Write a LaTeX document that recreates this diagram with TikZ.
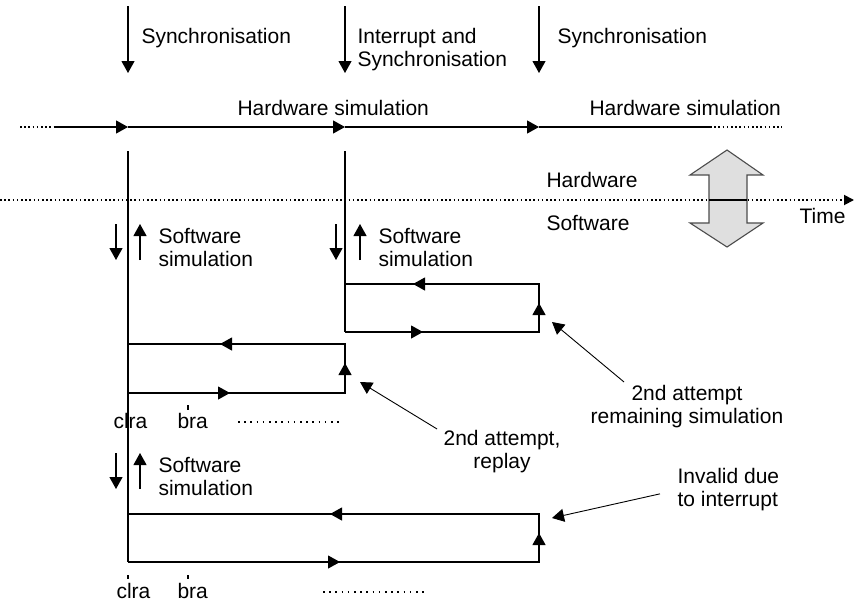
\documentclass[tikz,border=0pt]{standalone}
\usepackage{fontspec}
\setmainfont{Liberation Sans}
\usetikzlibrary{arrows.meta}
\tikzset{
    arr/.style={-{Triangle[length=6pt,width=6.5pt]}},
    dots/.style={line width=0.9pt,dash pattern=on 0.8pt off 1.3pt},
    wide dots/.style={line width=0.9pt,dash pattern=on 0.8pt off 2.3pt},
    lbl/.style={inner sep=0pt,font=\fontsize{10.5}{11.5}\selectfont},
}
\begin{document}
\begin{tikzpicture}[x=0.5pt,y=-0.5pt,line width=0.55pt]
        \useasboundingbox (0,0) rectangle (854,605);
        %% synchronisation points
        \foreach \x/\n in {128/s1,345/s2,539/s3} {
            \coordinate (\n top) at (\x,6);
            \coordinate (\n) at (\x,73);
            \draw[arr] (\n top) -- (\n);
        }
        \node[lbl,anchor=base west] (sync1) at (141,43) {Synchronisation};
        \node[lbl,anchor=north west,align=left] (intr) at (357,28) {Interrupt and\\Synchronisation};
        \node[lbl,anchor=base west] (sync3) at (557,43) {Synchronisation};
        %% hardware time line
        \coordinate (hw0) at (20,127);
        \coordinate (hw1) at (55,127);
        \coordinate (hwA) at (128,127);
        \coordinate (hwB) at (345,127);
        \coordinate (hwC) at (539,127);
        \coordinate (hw2) at (710,127);
        \coordinate (hw3) at (782,127);
        \draw[dots] (hw0) -- (hw1);
        \draw[arr] (hw1) -- (hwA);
        \draw[arr] (hwA) -- (hwB);
        \draw[arr] (hwB) -- (hwC);
        \draw (hwC) -- (hw2);
        \draw[dots] (hw2) -- (hw3);
        \node[lbl,anchor=base west] (hwsim1) at (237,115) {Hardware simulation};
        \node[lbl,anchor=base west] (hwsim2) at (589,115) {Hardware simulation};
        %% hardware / software border
        \draw[gray!60!black,fill=gray!25] (727,150) -- (763,175) -- (747,175) -- (747,223)
            -- (763,223) -- (727,247) -- (690,223) -- (709,223) -- (709,175) -- (690,175) -- cycle;
        \coordinate (t0) at (0,200);
        \coordinate (t1) at (854,200);
        \draw[dots,-{Triangle[length=5pt,width=5pt]}] (t0) -- (t1);
        \draw (709,200) -- (747,200);
        \node[lbl,anchor=base west] (hw) at (546,187) {Hardware};
        \node[lbl,anchor=base west] (sw) at (546,230) {Software};
        \node[lbl,anchor=base west] (time) at (799,223) {Time};
        %% software threads
        \coordinate (v1top) at (128,151);
        \coordinate (v1bot) at (128,562);
        \coordinate (v2top) at (345,151);
        \coordinate (v2bot) at (345,332);
        \draw (v1top) -- (v1bot);
        \draw (v2top) -- (v2bot);
        \foreach \xd/\xu/\xt/\y/\n in {116/140/158/224/sw1,336/360/378/224/sw2,116/140/158/453/sw3} {
            \draw[arr] (\xd,\y) -- (\xd,{\y+36});
            \draw[arr] (\xu,{\y+36}) -- (\xu,\y);
            \node[lbl,anchor=north west,align=left] (\n) at (\xt,{\y+4}) {Software\\simulation};
        }
        %% simulation loops
        \foreach \l/\r/\t/\b/\ta/\ba/\ra in {345/539/284/332/413/423/303,
                128/345/344/393/220/230/363,128/539/514/562/330/340/533} {
            \draw (\l,\t) -- (\r,\t) -- (\r,\b) -- (\l,\b);
            \draw[arr] (\r,\t) -- (\ta,\t);
            \draw[arr] (\l,\b) -- (\ba,\b);
            \draw[arr] (\r,\b) -- (\r,\ra);
        }
        %% instructions
        \draw (188,405) -- (188,410);
        \draw (128,575) -- (128,579);
        \draw (188,575) -- (188,579);
        \node[lbl,anchor=base west] (clra1) at (113,428) {clra};
        \node[lbl,anchor=base west] (bra1) at (177,428) {bra};
        \node[lbl,anchor=base west] (clra2) at (116,598) {clra};
        \node[lbl,anchor=base west] (bra2) at (177,598) {bra};
        \draw[wide dots] (238,422) -- (342,422);
        \draw[wide dots] (323,592) -- (427,592);
        %% notes
        \node[lbl,anchor=north,align=center] (remain) at (687,385) {2nd attempt\\remaining simulation};
        \node[lbl,anchor=north,align=center] (replay) at (502,430) {2nd attempt,\\replay};
        \node[lbl,anchor=north west,align=left] (invalid) at (677,468) {Invalid due\\to interrupt};
        \coordinate (remtip) at (552,322);
        \coordinate (reptip) at (360,382);
        \coordinate (invtip) at (552,518);
        \draw[arr,line width=0.45pt] ([shift={(-63,-3)}]remain.north) -- (remtip);
        \draw[arr,line width=0.45pt] ([shift={(-6,-1)}]replay.north west) -- (reptip);
        \draw[arr,line width=0.45pt] ([shift={(-17,4)}]invalid.west) -- (invtip);
    \end{tikzpicture}
\end{document}
